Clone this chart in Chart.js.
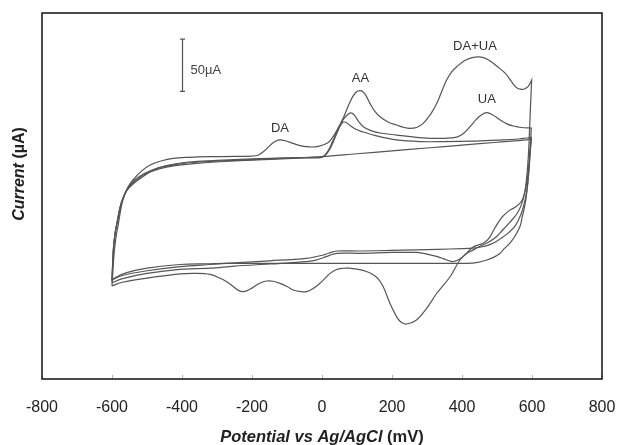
<!DOCTYPE html>
<html>
  <head>
    <title>Cyclic voltammograms</title>
    <script src="https://cdn.jsdelivr.net/npm/chart.js"></script>
    <style>
      body { margin: 0; background: #fff; }
      #wrap { width: 619px; height: 445px; }
    </style>
  </head>
  <body>
    <div id="wrap"><canvas id="myChart"></canvas></div>

    <script>
      // potential (mV) and current (µA)
      // blank electrolyte
      const blankFwdE = [-600, -596, -591, -585, -578, -569, -556, -536, -505, -465, -420, -350, -250, -150, -50, 0, 100, 200, 300, 400, 500, 585, 598];
      const blankFwdI = [-81, -52, -35, -24, -12, -2, 7, 15, 22, 27, 30, 32.5, 34, 35.5, 36.8, 37.6, 40.4, 43.1, 45.9, 48.6, 51.4, 53.6, 55];
      const blankRevE = [598, 594, 590, 585, 579, 572, 566, 552, 537, 520, 509, 490, 471, 445, 413, 300, 150, 0, -150, -283, -320, -406, -500, -560, -590, -600];
      const blankRevI = [55, 38, 20, 3, -10, -20, -29, -38, -45, -50.5, -54.8, -58.7, -61.2, -63.5, -64.4, -64.4, -64.4, -64.4, -64.4, -64.4, -64.8, -65.5, -69, -73.5, -78, -81];

      // AA only
      const aaFwdE = [-600, -596, -590, -584, -577, -568, -555, -535, -505, -465, -420, -350, -250, -150, -50, 0, 15, 30, 45, 58, 68, 80, 95, 115, 150, 213, 280, 350, 430, 500, 560, 598];
      const aaFwdI = [-80, -50, -33, -23, -11, -2, 7, 14, 21, 26, 29, 31.5, 33.5, 35, 36.5, 37, 42, 52, 63, 70, 70.5, 67.5, 64, 61.5, 58, 53.6, 52, 52, 52.5, 53.5, 54.5, 56];
      const aaRevE = [598, 594, 590, 585, 578, 568, 553, 530, 509, 490, 471, 451, 431, 400, 330, 270, 200, 109, 42, 20, 4, -20, -44, -150, -250, -320, -406, -500, -570, -600];
      const aaRevI = [56, 38, 20, 5, -7, -18, -28, -36, -41, -45, -47.5, -49, -49.8, -50.3, -51, -51.5, -52, -52.6, -52.6, -54.5, -56.4, -58.2, -59.6, -62, -64, -65.5, -67.6, -71.5, -76, -80];

      // AA + UA
      const aaUaFwdE = [-600, -596, -591, -585, -578, -570, -558, -540, -510, -472, -430, -382, -300, -200, -100, -20, 0, 15, 30, 45, 60, 72, 82, 92, 105, 118, 140, 170, 213, 260, 309, 350, 385, 405, 423, 440, 455, 471, 488, 509, 528, 547, 570, 598];
      const aaUaFwdI = [-83, -52, -36, -26, -14, -4, 5, 11.5, 19, 26.4, 30, 32.5, 34, 35.5, 36.5, 37, 37.5, 41, 50, 62, 72.7, 77.5, 79.5, 77.5, 71, 66.3, 62.5, 60, 58.3, 56.5, 55.2, 55.2, 56.3, 60, 66.3, 73, 77.5, 79.7, 77.5, 72.7, 69, 66.9, 65.5, 65];
      const aaUaRevE = [598, 595, 591, 586, 579, 570, 555, 535, 515, 495, 478, 462, 445, 431, 415, 395, 375, 355, 330, 300, 270, 200, 109, 42, 20, 4, -20, -44, -150, -250, -320, -406, -500, -570, -600];
      const aaUaRevI = [65, 48, 30, 15, 3, -5, -10, -14, -20, -30, -40, -45, -47, -49, -54, -60, -62.8, -61, -58, -55.5, -54, -54, -54.8, -54.8, -57, -59, -61.5, -62.8, -65, -67, -69, -70.1, -74, -79, -83];

      // DA + AA + UA mixture
      const mixFwdE = [-600, -594, -588, -583, -576, -569, -555, -540, -515, -491, -460, -425, -380, -320, -250, -200, -183, -165, -145, -130, -120, -105, -85, -60, -34, -10, 17, 30, 43, 60, 80, 95, 109, 122, 137, 150, 166, 190, 213, 235, 251, 270, 289, 310, 328, 342, 356, 370, 385, 408, 432, 455, 476, 500, 524, 540, 556, 570, 580, 590, 599];
      const mixFwdI = [-86, -55, -38, -29, -15, -4, 8, 15.3, 24, 29.6, 33.5, 36, 37, 37.6, 37.8, 38.2, 39, 43, 49.5, 52.8, 53.6, 52.8, 50.5, 48, 46.9, 47.5, 51, 56, 63, 74, 90, 98.5, 100.7, 98, 88.6, 81.5, 75.8, 70.5, 67.9, 65.5, 64.7, 65.5, 69.5, 78, 88.6, 100, 110.9, 118.5, 123.6, 129.5, 132.6, 132.8, 130.1, 124, 117.3, 110, 103.5, 102, 102.5, 105, 111];
      const mixRevE = [599, 595, 592, 589, 585, 579, 570, 557, 537, 515, 495, 471, 451, 430, 413, 394, 366, 328, 299, 270, 242, 225, 213, 194, 175, 160, 147, 125, 100, 75, 61, 40, 23, 8, -6, -25, -44, -60, -82, -100, -120, -140, -158, -175, -187, -205, -225, -240, -253, -270, -291, -320, -360, -406, -500, -570, -600];
      const mixRevI = [111, 80, 55, 35, 18.5, 3, -8, -17, -25, -33, -40, -45, -48, -52, -55, -61.2, -77.2, -93, -107.4, -118.6, -122.4, -120.5, -115.4, -102.6, -86.7, -79, -75.5, -72, -70, -69, -69.1, -70.5, -74, -79, -83.5, -88.5, -91.5, -91.5, -89.9, -86.5, -83.5, -81.5, -81.3, -83, -85.1, -89, -91.5, -90, -86.7, -82.5, -78.7, -75, -74, -74.5, -78.5, -82.5, -86];

      // peak annotations
      const peakNames = ["DA", "AA", "DA+UA", "UA"];
      const peakNameE = [-120, 110, 437, 471];
      const peakNameI = [65, 112, 143, 92];

      // 50 µA scale bar
      const barE = -400;
      const barI = [100, 150];
      const barText = "50µA";

      const xTicks = [-800, -600, -400, -200, 0, 200, 400, 600, 800];

      const toPoints = (E, I) => E.map((e, i) => ({ x: e, y: I[i] }));
      const loop = (fE, fI, rE, rI) => toPoints(fE.concat(rE), fI.concat(rI));

      const lineStyle = {
        showLine: true,
        borderColor: "#555",
        borderWidth: 1.2,
        pointRadius: 0,
        tension: 0.35,
        fill: false,
      };

      const decor = {
        id: "decor",
        afterDatasetsDraw(chart) {
          const { ctx, chartArea: a, scales } = chart;
          const x = scales.x, y = scales.y;
          ctx.save();

          // small inner ticks on the bottom edge
          ctx.strokeStyle = "#b5b5b5";
          ctx.lineWidth = 1;
          xTicks.forEach((v) => {
            const px = Math.round(x.getPixelForValue(v)) + 0.5;
            ctx.beginPath();
            ctx.moveTo(px, a.bottom);
            ctx.lineTo(px, a.bottom - 4);
            ctx.stroke();
          });

          // frame
          ctx.strokeStyle = "#111";
          ctx.lineWidth = 1.5;
          ctx.strokeRect(a.left, a.top, a.right - a.left, a.bottom - a.top);

          // scale bar
          const bx = Math.round(x.getPixelForValue(barE)) + 0.5;
          const by0 = y.getPixelForValue(barI[0]);
          const by1 = y.getPixelForValue(barI[1]);
          ctx.strokeStyle = "#555";
          ctx.lineWidth = 1.2;
          ctx.beginPath();
          ctx.moveTo(bx, by0); ctx.lineTo(bx, by1);
          ctx.moveTo(bx - 2.5, by0); ctx.lineTo(bx + 2.5, by0);
          ctx.moveTo(bx - 2.5, by1); ctx.lineTo(bx + 2.5, by1);
          ctx.stroke();
          ctx.fillStyle = "#444";
          ctx.font = "13px 'Liberation Sans', Arial";
          ctx.textAlign = "left";
          ctx.textBaseline = "middle";
          ctx.fillText(barText, bx + 8, (by0 + by1) / 2 + 5);

          // peak labels
          ctx.fillStyle = "#333";
          ctx.font = "13px 'Liberation Sans', Arial";
          ctx.textAlign = "center";
          peakNames.forEach((t, i) => {
            ctx.fillText(t, x.getPixelForValue(peakNameE[i]), y.getPixelForValue(peakNameI[i]));
          });

          // axis titles with mixed italic / upright parts
          const drawTitle = (parts, cx, cy) => {
            let total = 0;
            parts.forEach((p) => { ctx.font = p.font; total += ctx.measureText(p.text).width; });
            let px = cx - total / 2;
            ctx.textAlign = "left";
            parts.forEach((p) => {
              ctx.font = p.font;
              ctx.fillText(p.text, px, cy);
              px += ctx.measureText(p.text).width;
            });
          };
          ctx.fillStyle = "#222";
          ctx.textBaseline = "middle";
          drawTitle([
            { text: "Potential vs Ag/AgCl", font: "italic bold 16.5px 'Liberation Sans', Arial" },
            { text: " (mV)", font: "bold 16.5px 'Liberation Sans', Arial" },
          ], (a.left + a.right) / 2, 437);

          ctx.translate(20, (a.top + a.bottom) / 2 - 22);
          ctx.rotate(-Math.PI / 2);
          drawTitle([
            { text: "Current", font: "italic bold 16px 'Liberation Sans', Arial" },
            { text: " (µA)", font: "bold 16px 'Liberation Sans', Arial" },
          ], 0, 0);

          ctx.restore();
        },
      };

      const ctx = document.getElementById("myChart").getContext("2d");
      const myChart = new Chart(ctx, {
        type: "scatter",
        data: {
          datasets: [
            { label: "Blank", data: loop(blankFwdE, blankFwdI, blankRevE, blankRevI), ...lineStyle },
            { label: "AA", data: loop(aaFwdE, aaFwdI, aaRevE, aaRevI), ...lineStyle },
            { label: "AA + UA", data: loop(aaUaFwdE, aaUaFwdI, aaUaRevE, aaUaRevI), ...lineStyle },
            { label: "DA + AA + UA", data: loop(mixFwdE, mixFwdI, mixRevE, mixRevI), ...lineStyle },
          ],
        },
        options: {
          animation: false,
          responsive: true,
          maintainAspectRatio: false,
          layout: { padding: { left: 42, right: 17, top: 13, bottom: 0 } },
          plugins: { legend: { display: false }, tooltip: { enabled: false } },
          scales: {
            x: {
              type: "linear",
              min: -800,
              max: 800,
              afterBuildTicks: (s) => { s.ticks = xTicks.map((v) => ({ value: v })); },
              afterFit: (s) => {
                s.height = 66;
                s.paddingLeft = 0;
                s.paddingRight = 0;
              },
              grid: { display: false, drawTicks: false },
              border: { display: false },
              ticks: {
                color: "#222",
                padding: 19,
                font: { size: 16, family: "'Liberation Sans', Arial" },
              },
            },
            y: { display: false, min: -175, max: 175 },
          },
        },
        plugins: [decor],
      });
    </script>
  </body>
</html>
